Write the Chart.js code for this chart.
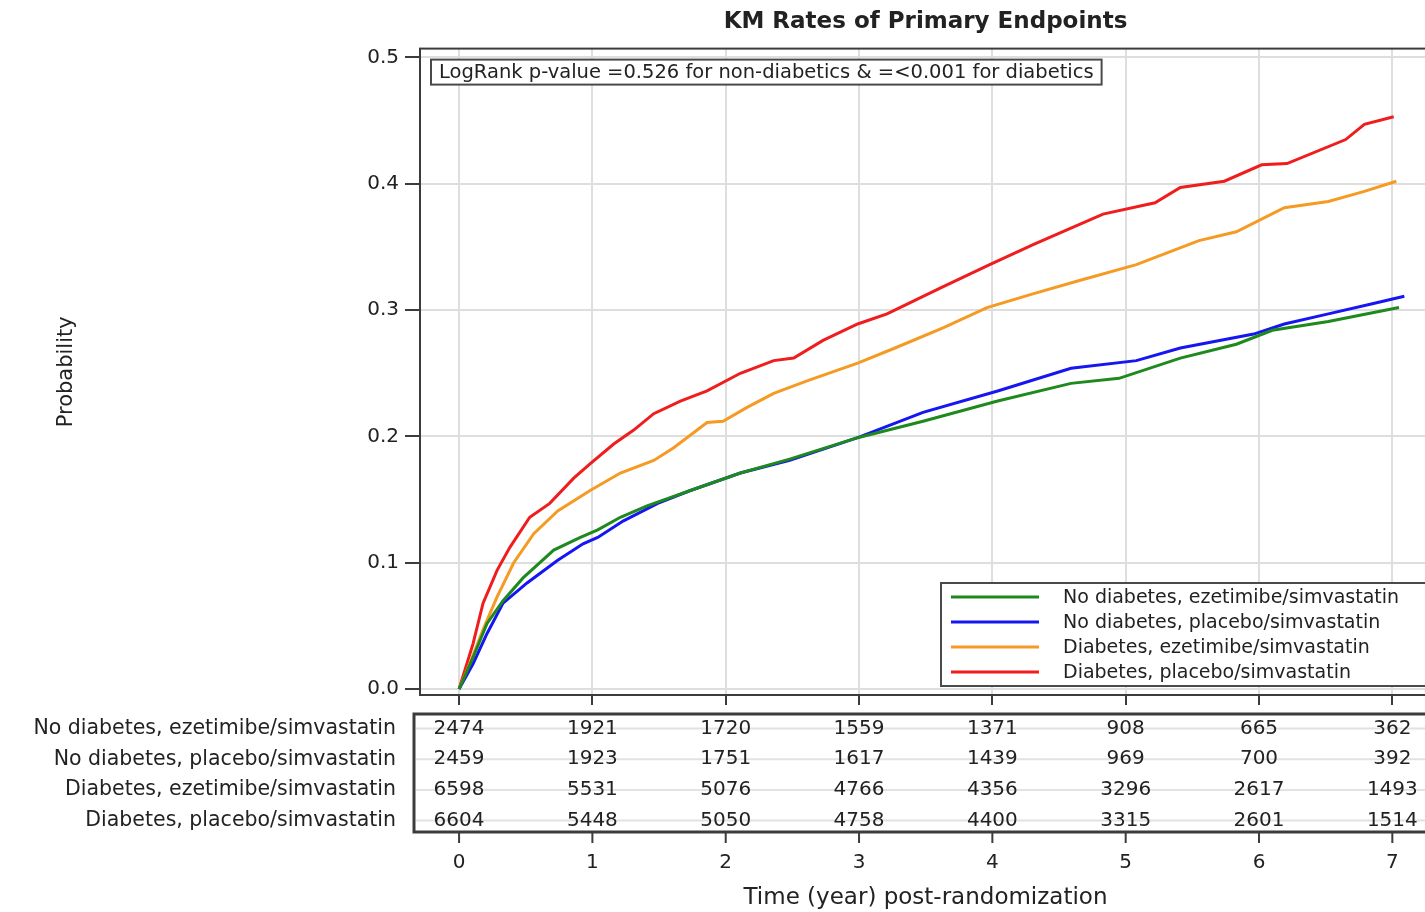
<!DOCTYPE html>
<html>
<head>
<meta charset="utf-8">
<title>KM Rates of Primary Endpoints</title>
<script src="https://cdn.jsdelivr.net/npm/chart.js@4"></script>
<style>
  html, body { margin: 0; padding: 0; background: #fff; overflow: hidden; }
  #km { display: block; }
</style>
</head>
<body>
<canvas id="km" width="1440" height="912"></canvas>
<script>
// Kaplan-Meier curves (time in years, cumulative event probability)
const noDiabEzeT = [0, 0.105, 0.21, 0.33, 0.48, 0.71, 0.91, 1.04, 1.21, 1.41, 1.73, 2.11, 2.48, 2.99, 3.48, 4.04, 4.59, 4.95, 5.41, 5.83, 6.1, 6.52, 7.05];
const noDiabEzeP = [0, 0.025, 0.052, 0.07, 0.088, 0.11, 0.12, 0.126, 0.136, 0.145, 0.157, 0.171, 0.182, 0.199, 0.212, 0.228, 0.242, 0.246, 0.262, 0.273, 0.284, 0.291, 0.302];

const noDiabPlaT = [0, 0.105, 0.21, 0.33, 0.51, 0.74, 0.93, 1.04, 1.23, 1.49, 1.73, 2.11, 2.48, 2.99, 3.48, 4.04, 4.59, 5.08, 5.41, 5.96, 6.19, 6.52, 6.85, 7.09];
const noDiabPlaP = [0, 0.02, 0.044, 0.068, 0.084, 0.102, 0.115, 0.12, 0.133, 0.147, 0.157, 0.171, 0.181, 0.199, 0.219, 0.236, 0.254, 0.26, 0.27, 0.281, 0.289, 0.297, 0.305, 0.311];

const diabEzeT = [0, 0.08, 0.18, 0.285, 0.41, 0.56, 0.74, 0.98, 1.21, 1.46, 1.61, 1.86, 1.98, 2.16, 2.36, 2.61, 2.99, 3.27, 3.63, 3.96, 4.31, 4.64, 5.08, 5.55, 5.83, 6.19, 6.52, 6.79, 7.03];
const diabEzeP = [0, 0.02, 0.047, 0.073, 0.1, 0.123, 0.141, 0.157, 0.171, 0.181, 0.191, 0.211, 0.212, 0.223, 0.234, 0.244, 0.258, 0.27, 0.286, 0.302, 0.313, 0.323, 0.336, 0.355, 0.362, 0.381, 0.386, 0.394, 0.402];

const diabPlaT = [0, 0.105, 0.18, 0.285, 0.38, 0.53, 0.68, 0.86, 0.98, 1.16, 1.31, 1.46, 1.66, 1.86, 2.11, 2.36, 2.51, 2.73, 2.99, 3.21, 3.62, 3.98, 4.31, 4.83, 5.22, 5.41, 5.74, 6.02, 6.21, 6.65, 6.79, 7.01];
const diabPlaP = [0, 0.036, 0.068, 0.094, 0.112, 0.136, 0.147, 0.167, 0.178, 0.194, 0.205, 0.218, 0.228, 0.236, 0.25, 0.26, 0.262, 0.276, 0.289, 0.297, 0.318, 0.336, 0.352, 0.376, 0.385, 0.397, 0.402, 0.415, 0.416, 0.435, 0.447, 0.453];

const groupNames = [
  'No diabetes, ezetimibe/simvastatin',
  'No diabetes, placebo/simvastatin',
  'Diabetes, ezetimibe/simvastatin',
  'Diabetes, placebo/simvastatin'
];
const groupColors = ['#1e8a1e', '#1616f2', '#f59a22', '#ef1d1d'];

// numbers at risk, one row per group, one column per year
const yearTicks = [0, 1, 2, 3, 4, 5, 6, 7];
const riskNoDiabEze = [2474, 1921, 1720, 1559, 1371, 908, 665, 362];
const riskNoDiabPla = [2459, 1923, 1751, 1617, 1439, 969, 700, 392];
const riskDiabEze = [6598, 5531, 5076, 4766, 4356, 3296, 2617, 1493];
const riskDiabPla = [6604, 5448, 5050, 4758, 4400, 3315, 2601, 1514];

const probTicks = [0, 0.1, 0.2, 0.3, 0.4, 0.5];
const logRankNote = 'LogRank p-value =0.526 for non-diabetics & =<0.001 for diabetics';

const FONT = "'DejaVu Sans', sans-serif";
const INK = '#222';
const FRAME = '#3c3c3c';
const GRID = '#dedede';

const toPoints = (t, p) => t.map((x, i) => ({ x: x, y: p[i] }));
const curves = [
  toPoints(noDiabEzeT, noDiabEzeP),
  toPoints(noDiabPlaT, noDiabPlaP),
  toPoints(diabEzeT, diabEzeP),
  toPoints(diabPlaT, diabPlaP)
];
const riskRows = [riskNoDiabEze, riskNoDiabPla, riskDiabEze, riskDiabPla];

// frame, p-value box and in-plot legend
const plotDecor = {
  id: 'plotDecor',
  afterDatasetsDraw(chart) {
    const { ctx, chartArea: a } = chart;
    ctx.save();

    ctx.strokeStyle = FRAME;
    ctx.lineWidth = 2;
    ctx.strokeRect(a.left, a.top, a.right - a.left, a.bottom - a.top);

    // log-rank note
    ctx.font = '19.5px ' + FONT;
    const noteW = ctx.measureText(logRankNote).width + 16;
    ctx.fillStyle = '#fff';
    ctx.fillRect(a.left + 11, a.top + 11, noteW, 25);
    ctx.strokeStyle = '#4a4a4a';
    ctx.strokeRect(a.left + 11, a.top + 11, noteW, 25);
    ctx.fillStyle = INK;
    ctx.textBaseline = 'middle';
    ctx.fillText(logRankNote, a.left + 19, a.top + 24);

    // legend
    const lx = 941, ly = 583;
    ctx.fillStyle = '#fff';
    ctx.fillRect(lx, ly, a.right - lx + 20, 103);
    ctx.strokeStyle = '#4a4a4a';
    ctx.strokeRect(lx, ly, a.right - lx + 20, 103);
    ctx.font = '19px ' + FONT;
    chart.data.datasets.forEach((ds, i) => {
      const y = ly + 14 + i * 25;
      ctx.strokeStyle = ds.borderColor;
      ctx.lineWidth = 3;
      ctx.beginPath();
      ctx.moveTo(lx + 10, y);
      ctx.lineTo(lx + 98, y);
      ctx.stroke();
      ctx.fillStyle = INK;
      ctx.fillText(ds.label, lx + 122, y + 1);
    });
    ctx.restore();
  }
};

// numbers-at-risk table under the plot
const riskTable = {
  id: 'riskTable',
  afterDraw(chart) {
    const { ctx } = chart;
    const xs = chart.scales.x;
    const top = 714, bottom = 832;
    const rowY = i => top + 14.5 + i * 30.7;
    ctx.save();

    ctx.strokeStyle = '#e2e2e2';
    ctx.lineWidth = 2;
    riskRows.forEach((row, i) => {
      ctx.beginPath();
      ctx.moveTo(416, rowY(i));
      ctx.lineTo(chart.width, rowY(i));
      ctx.stroke();
    });

    ctx.strokeStyle = FRAME;
    ctx.lineWidth = 3;
    ctx.strokeRect(414, top, chart.width, bottom - top);

    ctx.lineWidth = 2;
    yearTicks.forEach(t => {
      const x = xs.getPixelForValue(t);
      ctx.beginPath();
      ctx.moveTo(x, bottom);
      ctx.lineTo(x, bottom + 11);
      ctx.stroke();
    });

    ctx.fillStyle = INK;
    ctx.textBaseline = 'middle';
    riskRows.forEach((row, i) => {
      const y = rowY(i);
      ctx.font = '20.5px ' + FONT;
      ctx.textAlign = 'right';
      ctx.fillText(groupNames[i], 396, y);
      ctx.font = '20px ' + FONT;
      ctx.textAlign = 'center';
      row.forEach((n, j) => {
        ctx.fillText(String(n), xs.getPixelForValue(yearTicks[j]), y);
      });
    });
    ctx.restore();
  }
};

new Chart(document.getElementById('km'), {
  type: 'line',
  data: {
    datasets: curves.map((pts, i) => ({
      label: groupNames[i],
      data: pts,
      borderColor: groupColors[i],
      backgroundColor: groupColors[i],
      borderWidth: 3,
      pointRadius: 0,
      tension: 0,
      fill: false
    }))
  },
  options: {
    responsive: false,
    animation: false,
    layout: { padding: { left: 0, right: 9, top: 0, bottom: 0 } },
    plugins: {
      legend: { display: false },
      tooltip: { enabled: false },
      title: {
        display: true,
        fullSize: false,
        text: 'KM Rates of Primary Endpoints',
        color: INK,
        font: { family: FONT, size: 23, weight: 'bold' },
        padding: { top: 8, bottom: 13 }
      }
    },
    scales: {
      x: {
        type: 'linear',
        min: -0.293,
        max: 7.29,
        afterBuildTicks: s => { s.ticks = yearTicks.map(v => ({ value: v })); },
        afterFit: s => {
          // labels sit below the risk table; no side padding needed for them
          s.height = 217;
          s.paddingLeft = 0;
          s.paddingRight = 0;
        },
        grid: { color: GRID, lineWidth: 2, tickLength: 10, tickColor: FRAME, tickWidth: 2 },
        border: { display: true, color: FRAME, width: 2 },
        ticks: {
          color: INK,
          font: { family: FONT, size: 20 },
          padding: 146,
          maxRotation: 0,
          callback: v => String(v)
        },
        title: {
          display: true,
          text: 'Time (year) post-randomization',
          color: INK,
          font: { family: FONT, size: 23 },
          padding: { top: 0, bottom: 0 }
        }
      },
      y: {
        type: 'linear',
        min: -0.0047,
        max: 0.507,
        afterBuildTicks: s => { s.ticks = probTicks.map(v => ({ value: v })); },
        afterFit: s => { s.width = 420; },
        grid: { color: GRID, lineWidth: 2, tickLength: 15, tickColor: FRAME, tickWidth: 2 },
        border: { display: true, color: FRAME, width: 2 },
        ticks: {
          color: INK,
          font: { family: FONT, size: 20 },
          padding: 6,
          callback: v => v.toFixed(1)
        },
        title: {
          display: true,
          text: 'Probability',
          color: INK,
          font: { family: FONT, size: 21 },
          padding: { top: 54, bottom: 0 }
        }
      }
    }
  },
  plugins: [plotDecor, riskTable]
});
</script>
</body>
</html>
